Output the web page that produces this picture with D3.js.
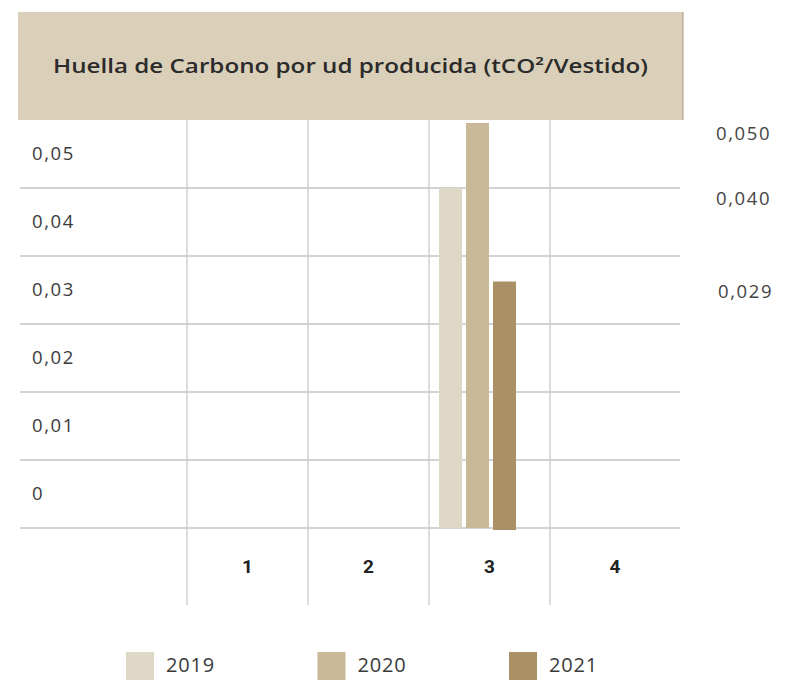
<!DOCTYPE html>
<html>
<head>
<meta charset="utf-8">
<script src="https://cdn.jsdelivr.net/npm/d3@7.9.0/dist/d3.min.js"></script>
<style>
  body { margin: 0; background: #fff; }
  svg { display: block; font-family: 'Open Sans', 'Noto Sans', sans-serif; }
</style>
</head>
<body>
<svg id="chart" width="796" height="680"></svg>
<script>
// chart data
const title = 'Huella de Carbono por ud producida (tCO²/Vestido)';
const categories = ['1', '2', '3', '4'];
const years = ['2019', '2020', '2021'];
const values2019 = [null, null, 0.040, null];
const values2020 = [null, null, 0.050, null];
const values2021 = [null, null, 0.029, null];
const yTickLabels = ['0,05', '0,04', '0,03', '0,02', '0,01', '0'];

const colors = ['#e0d8c6', '#c9b998', '#aa9165'];
const series = [values2019, values2020, values2021];

const svg = d3.select('#chart');

// layout
const gridLeft = 20, gridRight = 680;
const headTop = 12, headBottom = 120;
const rowsBottom = 528, axisBottom = 605;

// header box
svg.append('rect')
  .attr('x', 18).attr('y', headTop)
  .attr('width', 665).attr('height', headBottom - headTop)
  .attr('fill', '#dad0b9');
svg.append('line')
  .attr('x1', 683).attr('x2', 683)
  .attr('y1', headTop).attr('y2', headBottom)
  .attr('stroke', '#a59a85').attr('stroke-width', 1);
svg.append('text')
  .attr('x', 53).attr('y', 68)
  .attr('textLength', 595)
  .attr('lengthAdjust', 'spacingAndGlyphs')
  .attr('dominant-baseline', 'middle')
  .attr('font-size', 19.5)
  .attr('font-weight', 600)
  .attr('fill', '#2b2b2b')
  .text(title);

// rows (y tick labels sit inside rows)
const rows = d3.scaleBand().domain(yTickLabels).range([headBottom, rowsBottom]);

// category columns
const x = d3.scaleBand().domain(categories).range([187, 671]);
const x1 = d3.scaleBand().domain(years).range([10, 87]).paddingInner(0.148);

// value scale
const y = d3.scaleLinear().domain([0, 0.04]).range([rowsBottom, rowsBottom - 5 * rows.bandwidth()]);

// horizontal lines
svg.append('g').selectAll('line')
  .data(yTickLabels)
  .join('line')
  .attr('x1', gridLeft).attr('x2', gridRight)
  .attr('y1', d => rows(d) + rows.bandwidth())
  .attr('y2', d => rows(d) + rows.bandwidth())
  .attr('stroke', '#c4c4c8').attr('stroke-width', 1.6);

// vertical lines
svg.append('g').selectAll('line')
  .data(categories)
  .join('line')
  .attr('x1', d => x(d)).attr('x2', d => x(d))
  .attr('y1', headBottom).attr('y2', axisBottom)
  .attr('stroke', '#cacaca').attr('stroke-width', 1.3);

// y labels
svg.append('g').selectAll('text')
  .data(yTickLabels)
  .join('text')
  .attr('x', 32)
  .attr('y', d => rows(d) + rows.bandwidth() / 2 + 1)
  .attr('dominant-baseline', 'middle')
  .attr('font-size', 18.5)
  .attr('letter-spacing', 1.6)
  .attr('fill', '#3a3a3a')
  .text(d => d);

// category labels
function colCenter(c, i) {
  const next = i < categories.length - 1 ? x(categories[i + 1]) : gridRight;
  return (x(c) + next) / 2;
}
svg.append('g').selectAll('text')
  .data(categories)
  .join('text')
  .attr('x', (d, i) => colCenter(d, i))
  .attr('y', 568)
  .attr('text-anchor', 'middle')
  .attr('dominant-baseline', 'middle')
  .attr('font-family', 'Roboto, sans-serif')
  .attr('font-size', 19)
  .attr('font-weight', 700)
  .attr('fill', '#222')
  .text(d => d);

// bars
const clipTop = headBottom + 3;
svg.append('clipPath').attr('id', 'clip')
  .append('rect')
  .attr('x', 0).attr('y', clipTop)
  .attr('width', 796).attr('height', 680 - clipTop);

const barData = [];
series.forEach((vals, si) => {
  vals.forEach((v, ci) => {
    if (v != null) barData.push({ cat: categories[ci], year: years[si], value: v, color: colors[si] });
  });
});

svg.append('g').attr('clip-path', 'url(#clip)')
  .selectAll('rect')
  .data(barData)
  .join('rect')
  .attr('x', d => x(d.cat) + x1(d.year))
  .attr('width', x1.bandwidth())
  .attr('y', d => y(d.value))
  .attr('height', d => y(0) - y(d.value) + (d.year === '2021' ? 2 : 0))
  .attr('fill', d => d.color);

// value labels on the right
const fmt = v => d3.format('.3f')(v).replace('.', ',');
svg.append('g').selectAll('text')
  .data(barData)
  .join('text')
  .attr('x', d => (d.value < 0.03 ? 718 : 716))
  .attr('y', d => Math.max(y(d.value), clipTop) + 12)
  .attr('dominant-baseline', 'middle')
  .attr('font-size', 18.5)
  .attr('letter-spacing', 1.6)
  .attr('fill', '#444')
  .text(d => fmt(d.value));

// legend
const lx = d3.scalePoint().domain(years).range([126, 509]);
const legend = svg.append('g').selectAll('g')
  .data(years)
  .join('g')
  .attr('transform', d => `translate(${lx(d)},652)`);
legend.append('rect')
  .attr('width', 28).attr('height', 28)
  .attr('fill', (d, i) => colors[i]);
legend.append('text')
  .attr('x', 40).attr('y', 15)
  .attr('dominant-baseline', 'middle')
  .attr('font-size', 20)
  .attr('letter-spacing', 0.8)
  .attr('fill', '#3a3a3a')
  .text(d => d);
</script>
</body>
</html>
